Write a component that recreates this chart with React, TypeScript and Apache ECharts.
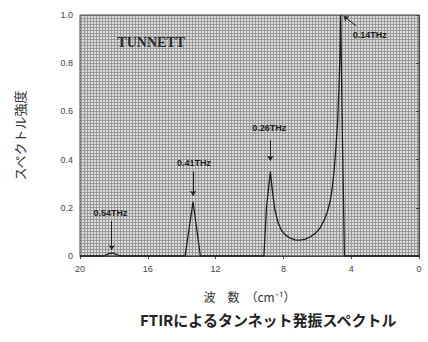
import React, { useEffect, useRef } from "react";
import * as echarts from "echarts";

// Wavenumber (cm^-1) and spectral intensity of the TUNNETT oscillator emission
const wavenumbers = [20, 18.6, 18.35, 18.13, 17.9, 17.6, 13.8, 13.33, 12.9, 9.15, 9.0, 8.77, 8.65, 8.5, 8.3, 8.1, 7.9, 7.6, 7.3, 7.0, 6.7, 6.4, 6.1, 5.85, 5.6, 5.4, 5.25, 5.12, 5.0, 4.9, 4.8, 4.72, 4.66, 4.62, 4.52, 4.4, 0];
const intensity = [0, 0, 0.008, 0.013, 0.008, 0, 0, 0.225, 0, 0, 0.2, 0.35, 0.27, 0.19, 0.135, 0.105, 0.088, 0.074, 0.067, 0.066, 0.07, 0.08, 0.095, 0.115, 0.148, 0.185, 0.225, 0.28, 0.36, 0.45, 0.56, 0.7, 0.85, 1.0, 0.5, 0, 0];

const xTicks = [20, 16, 12, 8, 4, 0];
const yTicks = [0, 0.2, 0.4, 0.6, 0.8, 1.0];

// Peak annotations: label, label position [x, y], arrow start, arrow end
const peakLabels = ["0.54THz", "0.41THz", "0.26THz", "0.14THz"];
const labelPos = [[18.2, 0.18], [13.27, 0.385], [8.83, 0.53], [2.9, 0.915]];
const arrowFrom = [[18.13, 0.145], [13.33, 0.35], [8.77, 0.48], [3.7, 0.955]];
const arrowTo = [[18.13, 0.025], [13.33, 0.25], [8.77, 0.395], [4.45, 0.995]];

const deviceName = "TUNNETT";
const devicePos = [15.8, 0.884];

const xName = "波　数　（cm⁻¹）";
const yName = "スペクトル強度";
const caption = "FTIRによるタンネット発振スペクトル";

function makeHalftone(): string {
  const c = document.createElement("canvas");
  c.width = 3;
  c.height = 3;
  const ctx = c.getContext("2d")!;
  ctx.fillStyle = "#dcdcdc";
  ctx.fillRect(0, 0, 3, 3);
  ctx.fillStyle = "#9a9a9a";
  ctx.fillRect(0, 0, 3, 1);
  ctx.fillRect(0, 0, 1, 3);
  return c.toDataURL();
}

export default function App() {
  const ref = useRef<HTMLDivElement>(null);

  useEffect(() => {
    document.body.style.margin = "0";
    const chart = echarts.init(ref.current!, undefined, { renderer: "svg" });
    const tile = makeHalftone();
    const labelFont = "Liberation Sans, DejaVu Sans, sans-serif";

    chart.setOption({
      animation: false,
      backgroundColor: "#ffffff",
      grid: {
        left: 80,
        right: 9,
        top: 15,
        bottom: 86,
        show: true,
        borderColor: "#444",
        borderWidth: 1,
        backgroundColor: { image: tile, repeat: "repeat" },
      },
      xAxis: {
        type: "value",
        min: 0,
        max: 20,
        interval: 4,
        inverse: true,
        name: xName,
        nameLocation: "middle",
        nameGap: 34,
        nameTextStyle: { fontSize: 12, color: "#333", fontFamily: "Noto Sans CJK JP" },
        axisLine: { lineStyle: { color: "#444", width: 1 } },
        axisTick: { show: true, length: 3, lineStyle: { color: "#444" } },
        axisLabel: {
          fontSize: 9,
          color: "#444",
          margin: 8,
          fontFamily: labelFont,
          formatter: (v: number) => (xTicks.includes(v) ? String(v) : ""),
        },
        splitLine: { show: false },
      },
      yAxis: {
        type: "value",
        min: 0,
        max: 1,
        interval: 0.2,
        name: yName,
        nameLocation: "middle",
        nameGap: 54,
        nameTextStyle: { fontSize: 13, color: "#333", fontFamily: "Noto Sans CJK JP" },
        axisLine: { show: true, lineStyle: { color: "#444", width: 1 } },
        axisTick: { show: true, length: 3, lineStyle: { color: "#444" } },
        axisLabel: {
          fontSize: 9,
          color: "#444",
          margin: 7,
          fontFamily: labelFont,
          formatter: (v: number) => {
            const t = yTicks.find((y) => Math.abs(y - v) < 1e-6);
            if (t === undefined) return "";
            return t === 0 ? "0" : t.toFixed(1);
          },
        },
        splitLine: { show: false },
      },
      series: [
        {
          type: "line",
          data: wavenumbers.map((w, i) => [w, intensity[i]]),
          showSymbol: false,
          smooth: false,
          lineStyle: { color: "#1e1e1e", width: 1.3 },
          markLine: {
            silent: true,
            symbol: ["none", "arrow"],
            symbolSize: 5,
            label: { show: false },
            lineStyle: { color: "#222", width: 1, type: "solid" },
            data: arrowFrom.map((f, i) => [{ coord: f }, { coord: arrowTo[i] }]),
          },
          markPoint: {
            silent: true,
            symbol: "circle",
            symbolSize: 0,
            data: [
              ...peakLabels.map((name, i) => ({
                coord: labelPos[i],
                label: {
                  show: true,
                  formatter: name,
                  position: "inside",
                  fontSize: 9,
                  fontWeight: "bold",
                  color: "#222",
                  fontFamily: labelFont,
                },
              })),
              {
                coord: devicePos,
                label: {
                  show: true,
                  formatter: deviceName,
                  position: "inside",
                  fontSize: 14,
                  fontWeight: "bold",
                  color: "#2a2a2a",
                  fontFamily: "Liberation Serif, DejaVu Serif, serif",
                },
              },
            ],
          },
        },
      ],
      graphic: [
        {
          type: "text",
          left: 140,
          top: 312,
          style: {
            text: caption,
            fontSize: 15,
            fontWeight: "bold",
            fill: "#222",
            fontFamily: "Noto Sans CJK JP",
          },
        },
      ],
    });

    return () => chart.dispose();
  }, []);

  return <div ref={ref} style={{ width: 428, height: 342 }} />;
}
